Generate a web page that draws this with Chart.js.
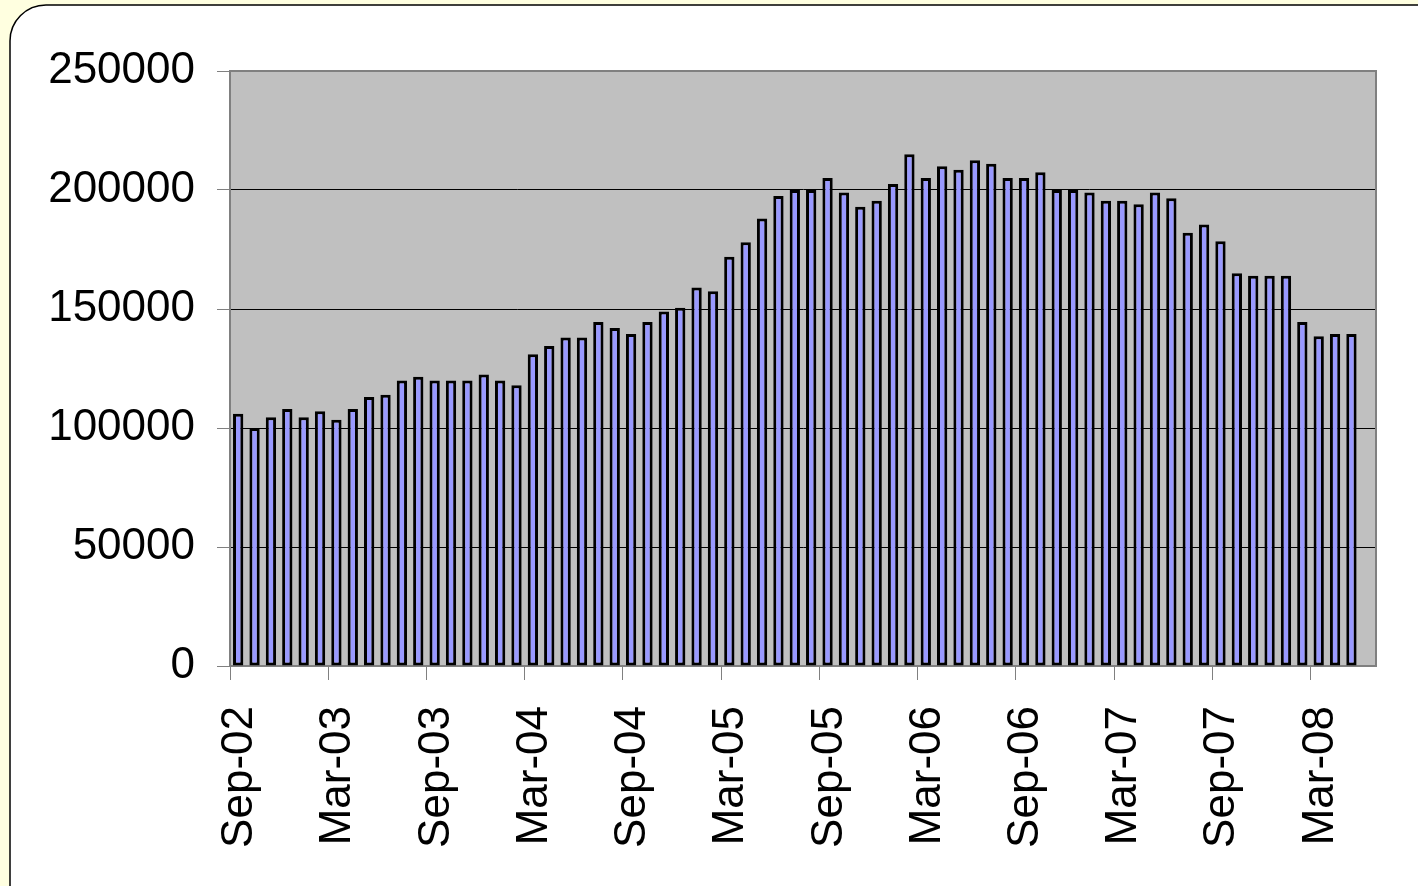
<!DOCTYPE html>
<html>
<head>
<meta charset="utf-8">
<title>chart</title>
<script src="https://cdn.jsdelivr.net/npm/chart.js@4.4.1/dist/chart.umd.min.js"></script>
<style>
  html, body { margin: 0; padding: 0; background: #FFFFE0; }
  #chartDiv { width: 1418px; height: 886px; position: relative; }
</style>
</head>
<body>
<div id="chartDiv"><canvas id="monthChart" width="1418" height="886"></canvas></div>
<script>
// month categories (Sep-02 .. Jun-08), last one has no bar
var months = [
  'Sep-02','Oct-02','Nov-02','Dec-02','Jan-03','Feb-03','Mar-03','Apr-03','May-03','Jun-03','Jul-03','Aug-03',
  'Sep-03','Oct-03','Nov-03','Dec-03','Jan-04','Feb-04','Mar-04','Apr-04','May-04','Jun-04','Jul-04','Aug-04',
  'Sep-04','Oct-04','Nov-04','Dec-04','Jan-05','Feb-05','Mar-05','Apr-05','May-05','Jun-05','Jul-05','Aug-05',
  'Sep-05','Oct-05','Nov-05','Dec-05','Jan-06','Feb-06','Mar-06','Apr-06','May-06','Jun-06','Jul-06','Aug-06',
  'Sep-06','Oct-06','Nov-06','Dec-06','Jan-07','Feb-07','Mar-07','Apr-07','May-07','Jun-07','Jul-07','Aug-07',
  'Sep-07','Oct-07','Nov-07','Dec-07','Jan-08','Feb-08','Mar-08','Apr-08','May-08','Jun-08'
];

var monthValues = [
  106000, 100000, 104500, 108000, 104500, 107000, 103500, 108000, 113000, 114000, 120000, 121500,
  120000, 120000, 120000, 122500, 120000, 118000, 131000, 134500, 138000, 138000, 144500, 142000,
  139500, 144500, 149000, 150500, 159000, 157500, 172000, 178000, 188000, 197500, 200000, 200000,
  205000, 199000, 193000, 195500, 202500, 215000, 205000, 210000, 208500, 212500, 211000, 205000,
  205000, 207500, 200000, 200000, 199000, 195500, 195500, 194000, 199000, 196500, 182000, 185500,
  178500, 165000, 164000, 164000, 164000, 144500, 138500, 139500, 139500
];

// labels on the x axis, one every 6 months
var xTickLabels = ['Sep-02','Mar-03','Sep-03','Mar-04','Sep-04','Mar-05','Sep-05','Mar-06','Sep-06','Mar-07','Sep-07','Mar-08'];
var yTicks = [0, 50000, 100000, 150000, 200000, 250000];

var barPoints = [];
for (var i = 0; i < monthValues.length; i++) {
  // bar sits in the middle of its month slot
  barPoints.push({ x: i + 0.5, y: monthValues[i] });
}

// yellow page, white rounded panel, gray plot area
var backgroundPlugin = {
  id: 'bgPanel',
  beforeDraw: function (chart) {
    var ctx = chart.ctx;
    var a = chart.chartArea;
    ctx.save();
    ctx.fillStyle = '#FFFFE0';
    ctx.fillRect(0, 0, chart.width, chart.height);

    ctx.beginPath();
    ctx.roundRect(10, 5, 1450, 920, 36);
    ctx.fillStyle = '#FFFFFF';
    ctx.fill();
    ctx.lineWidth = 1.5;
    ctx.strokeStyle = '#000000';
    ctx.stroke();

    ctx.fillStyle = '#C0C0C0';
    ctx.fillRect(a.left, a.top, a.right - a.left, a.bottom - a.top);
    ctx.restore();
  },
  afterDatasetsDraw: function (chart) {
    var ctx = chart.ctx;
    var a = chart.chartArea;
    ctx.save();
    ctx.strokeStyle = '#808080';
    ctx.lineWidth = 2;
    ctx.beginPath();
    ctx.moveTo(a.left, a.top);
    ctx.lineTo(a.right, a.top);
    ctx.lineTo(a.right, a.bottom);
    ctx.stroke();
    ctx.restore();
  }
};

function initializeMonthChart() {
  var ctx = document.getElementById('monthChart').getContext('2d');
  var myChart = new Chart(ctx, {
    type: 'bar',
    data: {
      datasets: [{
        data: barPoints,
        backgroundColor: '#9999FF',
        borderColor: '#000000',
        borderWidth: 3,
        borderSkipped: false,
        barPercentage: 0.63,
        categoryPercentage: 1.0
      }]
    },
    options: {
      responsive: false,
      animation: false,
      layout: { padding: { left: 0, right: 42, top: 71, bottom: 0 } },
      plugins: {
        legend: { display: false },
        tooltip: { enabled: false }
      },
      scales: {
        x: {
          type: 'linear',
          min: 0,
          max: months.length,
          offset: false,
          afterBuildTicks: function (scale) {
            scale.ticks = scale.ticks.filter(function (t) { return t.value % 6 === 0 && t.value < months.length; });
          },
          afterFit: function (scale) { scale.height = 886 - 666; },
          border: { display: true, color: '#808080', width: 2 },
          grid: { offset: false, drawOnChartArea: false, drawTicks: true, tickLength: 14, color: '#808080', lineWidth: 1 },
          ticks: {
            stepSize: 6,
            autoSkip: false,
            minRotation: 90,
            maxRotation: 90,
            padding: 26,
            labelOffset: 10,
            color: '#000000',
            font: { family: '"Liberation Sans", Arial, sans-serif', size: 44 },
            callback: function (value) { return xTickLabels[value / 6]; }
          }
        },
        y: {
          min: 0,
          max: 250000,
          afterFit: function (scale) { scale.width = 230; },
          afterBuildTicks: function (scale) {
            scale.ticks = yTicks.map(function (v) { return { value: v }; });
          },
          border: { display: true, color: '#808080', width: 2 },
          grid: { color: '#000000', lineWidth: 1, tickLength: 13, tickColor: '#808080' },
          ticks: {
            padding: 22,
            color: '#000000',
            font: { family: '"Liberation Sans", Arial, sans-serif', size: 44 },
            callback: function (value) { return String(value); }
          }
        }
      }
    },
    plugins: [backgroundPlugin]
  });
  myChart.update();
}

initializeMonthChart();
</script>
</body>
</html>
